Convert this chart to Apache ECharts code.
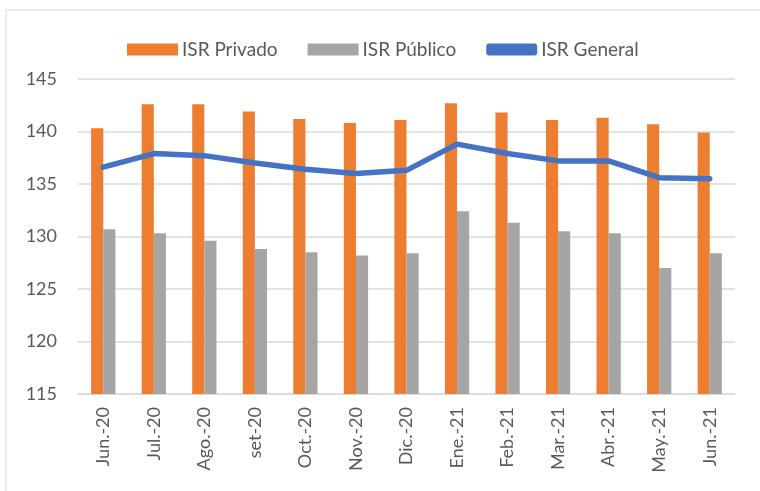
<!DOCTYPE html>
<html>
<head>
<meta charset="utf-8">
<script src="https://cdn.jsdelivr.net/npm/echarts@6/dist/echarts.min.js"></script>
<style>
  html, body { margin: 0; padding: 0; background: #fff; }
  #chart { width: 760px; height: 491px; }
</style>
</head>
<body>
<div id="chart"></div>
<script>
var months = ["Jun.-20", "Jul.-20", "Ago.-20", "set-20", "Oct.-20", "Nov.-20", "Dic.-20",
              "Ene.-21", "Feb.-21", "Mar.-21", "Abr.-21", "May.-21", "Jun.-21"];
var isrPrivado = [140.3, 142.6, 142.6, 141.9, 141.2, 140.8, 141.1, 142.7, 141.8, 141.1, 141.3, 140.7, 139.9];
var isrPublico = [130.7, 130.3, 129.6, 128.8, 128.5, 128.2, 128.4, 132.4, 131.3, 130.5, 130.3, 127.0, 128.4];
var isrGeneral = [136.6, 137.9, 137.7, 137.0, 136.4, 136.0, 136.3, 138.8, 137.9, 137.2, 137.2, 135.6, 135.5];

var txt = "#595959";
var font = "Lato";

var myChart = echarts.init(document.getElementById("chart"));

var option = {
    animation: false,
    textStyle: { fontFamily: font },
    graphic: [{
        type: "rect",
        shape: { x: 6, y: 10, width: 800, height: 600 },
        style: { fill: "none", stroke: "#d9d9d9", lineWidth: 1 },
        silent: true
    }],
    legend: {
        top: 35,
        left: 122,
        itemWidth: 51,
        itemHeight: 12,
        itemGap: 30,
        textStyle: { color: txt, fontSize: 19, fontFamily: font, padding: [0, 0, 0, -1] },
        data: [
            { name: "ISR Privado", icon: "rect" },
            { name: "ISR Público", icon: "rect" },
            { name: "ISR General", icon: "roundRect" }
        ]
    },
    grid: { left: 78, right: 25, top: 79, bottom: 97 },
    xAxis: {
        type: "category",
        data: months,
        axisTick: { show: false },
        axisLine: { lineStyle: { color: "#d9d9d9", width: 1.5 } },
        axisLabel: { rotate: 90, color: txt, fontSize: 18, margin: 13, interval: 0 }
    },
    yAxis: {
        type: "value",
        min: 115,
        max: 145,
        interval: 5,
        axisLabel: { color: txt, fontSize: 18, margin: 21 },
        splitLine: { lineStyle: { color: "#d9d9d9", width: 1.5 } }
    },
    series: [
        {
            name: "ISR Privado",
            type: "bar",
            data: isrPrivado,
            barGap: "0%",
            barCategoryGap: "52%",
            itemStyle: { color: "#ed7d31" }
        },
        {
            name: "ISR Público",
            type: "bar",
            data: isrPublico,
            itemStyle: { color: "#a5a5a5" }
        },
        {
            name: "ISR General",
            type: "line",
            data: isrGeneral,
            symbol: "none",
            lineStyle: { color: "#4472c4", width: 5.5, cap: "round", join: "round" },
            itemStyle: { color: "#4472c4" }
        }
    ]
};

myChart.setOption(option);
</script>
</body>
</html>
